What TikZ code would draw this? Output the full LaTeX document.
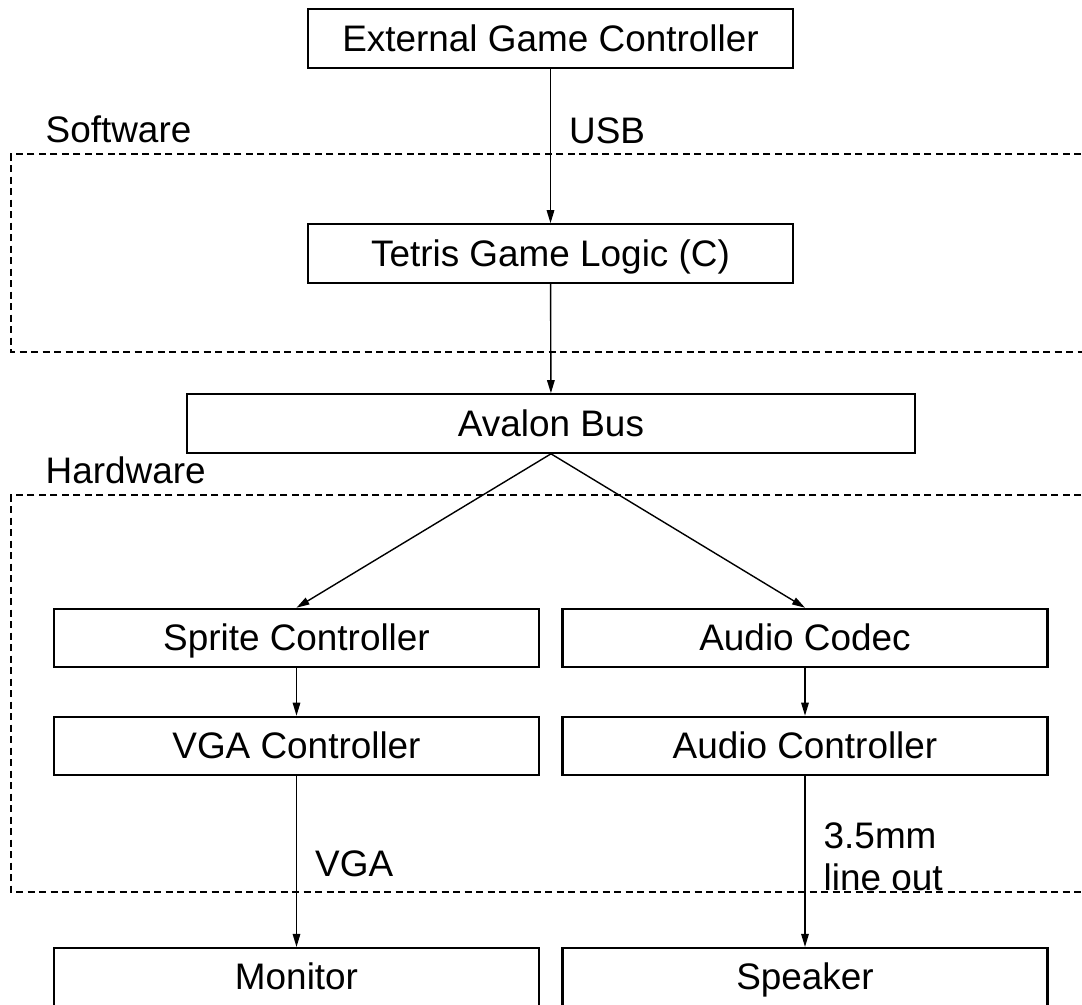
\documentclass[tikz,border=0pt]{standalone}
\usepackage{fontspec}
\setmainfont{Liberation Sans}
\usetikzlibrary{arrows.meta}

\tikzset{
    blk/.style = {draw, line width = 0.6pt, minimum width = 4.85cm, minimum height = 0.585cm, inner sep = 0pt,
                  text height = 0.716em, text depth = 0pt},
    lbl/.style = {anchor = west, inner sep = 0pt, xshift = 0.18cm},
    zone/.style = {dash pattern = on 0.07cm off 0.045cm, line width = 0.4pt}
}

\begin{document}
\begin{tikzpicture}[line width = 0.4pt, font = \fontsize{10.5}{12}\selectfont, >={Triangle[length = 1.3mm, width = 0.75mm]}]
\useasboundingbox (0,0) rectangle (10.82,-10.04);

% software and hardware zones, open to the right
\draw[zone] (11.5,-1.54) -- (0.11,-1.54) -- (0.11,-3.52) -- (11.5,-3.52);
\draw[zone] (11.5,-4.95) -- (0.11,-4.95) -- (0.11,-8.92) -- (11.5,-8.92);
\node[anchor = base west, inner sep = 0pt] (sw) at (0.45,-1.42) {Software};
\node[anchor = base west, inner sep = 0pt] (hw) at (0.45,-4.83) {Hardware};

\draw
    (5.505,-0.385) node[blk](b1){External Game Controller}
    (5.505,-2.535) node[blk](b2){Tetris Game Logic (C)}
    (5.51,-4.235) node[blk, minimum width = 7.28cm](b3){Avalon Bus}
    (2.965,-6.38) node[blk](b4){Sprite Controller}
    (8.05,-6.38) node[blk](b5){Audio Codec}
    (2.965,-7.46) node[blk](b6){VGA Controller}
    (8.05,-7.46) node[blk](b7){Audio Controller}
    (2.965,-9.7725) node[blk](b8){Monitor}
    (8.05,-9.7725) node[blk](b9){Speaker};

    \draw [->] (b1) -- (b2) node[lbl, pos = 0.4] {USB};
    \draw [->] (b2) -- (b3);
    \draw [->] (b3.south) -- (b4.north);
    \draw [->] (b3.south) -- (b5.north);
    \draw [->] (b4) -- (b6);
    \draw [->] (b5) -- (b7);
    \draw [->] (b6) -- (b8) node[lbl, pos = 0.514] {VGA};
    \draw [->] (b7) -- (b9) node[lbl, pos = 0.474, align = left] {3.5mm\\line out};

\end{tikzpicture}
\end{document}
